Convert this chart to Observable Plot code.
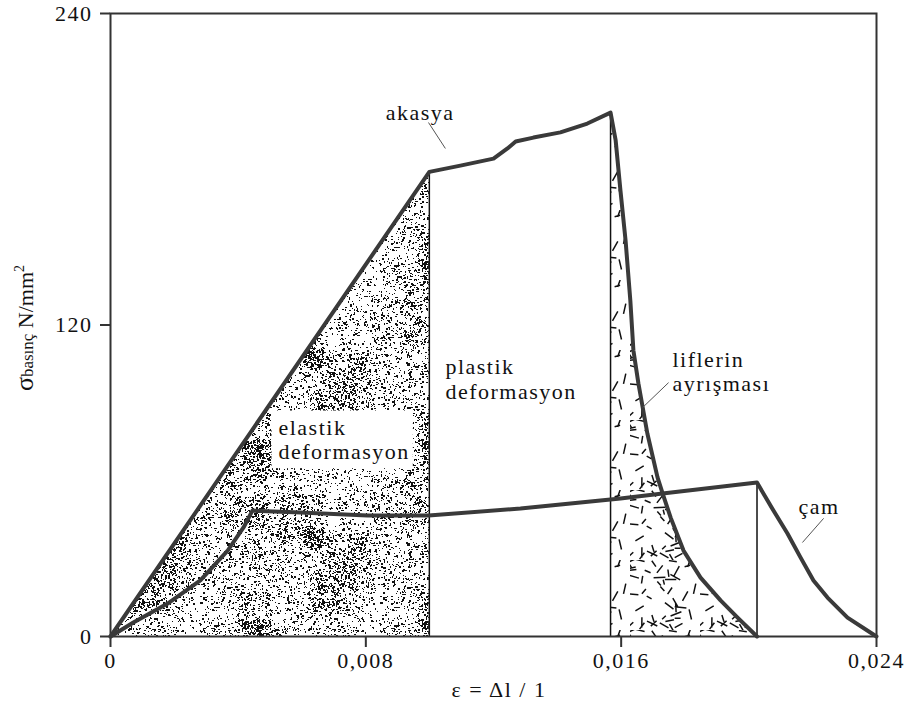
<!DOCTYPE html>
<html>
<head>
<meta charset="utf-8">
<script src="https://cdn.jsdelivr.net/npm/d3@7"></script>
<script src="https://cdn.jsdelivr.net/npm/@observablehq/plot@0.6"></script>
<style>
  html, body { margin: 0; padding: 0; background: #fff; }
  #chart svg { display: block; }
</style>
</head>
<body>
<div id="chart"></div>
<script>
// Compression test: strain ε (Δl / l) against compressive stress σ (N/mm²)
const akasyaStrain = [0, 0.0099, 0.01081, 0.01178, 0.01219, 0.01243, 0.01295, 0.01374, 0.01453, 0.01521,
  0.01536, 0.0155, 0.01565, 0.01579, 0.01588, 0.01603, 0.01633, 0.01667, 0.01684, 0.01711,
  0.01754, 0.01811, 0.01878, 0.01935, 0.0200];
const akasyaStress = [0, 179, 181.4, 184.1, 188, 190.7, 192.2, 194.2, 197.6, 201.8,
  191.1, 171.8, 152.6, 129.4, 110.2, 97.5, 78.2, 61.3, 55.1, 45.8,
  33.1, 22.7, 13.9, 7.3, 0];

const camStrain = [0, 0.00072, 0.0018, 0.00283, 0.00369, 0.00419, 0.00447, 0.00598, 0.00809, 0.00988,
  0.01257, 0.0155, 0.01684, 0.0200, 0.02055, 0.02102, 0.02146, 0.02189, 0.02236, 0.02303, 0.024];
const camStress = [0, 5.4, 12.7, 21.6, 33.1, 42, 48.5, 47.8, 46.6, 46.6,
  49.3, 53.2, 55.1, 59.3, 48.5, 39.7, 30.4, 21.6, 15, 7.3, 0];

// indices of the elastic limit and the maximum stress on each curve
const akasyaElasticIdx = 1;
const akasyaPeakIdx = 9;
const camPeakIdx = 13;

const xTicks = [0, 0.008, 0.016, 0.024];
const yTicks = [0, 120, 240];
// the strain axis is drawn with slightly unequal tick intervals (0.332 / 0.356 / 0.312 of the width)
const xTickShare = [0, 0.3316, 0.6880, 1];

// annotations
const labelText = ["akasya", "plastik\ndeformasyon", "elastik\ndeformasyon", "liflerin\nayrışması", "çam"];
const labelStrain = [0.00862, 0.01037, 0.00529, 0.01717, 0.02139];
const labelStress = [202.2, 99.4, 76.1, 102.3, 50.1];

// leader lines from annotation to curve
const leaderStrainFrom = [0.009875, 0.01704, 0.02223];
const leaderStressFrom = [198.0, 97.8, 45.5];
const leaderStrainTo = [0.01037, 0.01617, 0.02152];
const leaderStressTo = [188.0, 88.2, 36.2];

const akasya = akasyaStrain.map((x, i) => ({x, y: akasyaStress[i]}));
const cam = camStrain.map((x, i) => ({x, y: camStress[i]}));
const elasticZone = akasya.slice(0, akasyaElasticIdx + 1);
const fibreZone = akasya.slice(akasyaPeakIdx);
const dividers = [akasya[akasyaElasticIdx], akasya[akasyaPeakIdx], cam[camPeakIdx]];
const labels = labelText.map((text, i) => ({text, x: labelStrain[i], y: labelStress[i]}));
const leaders = leaderStrainFrom.map((x1, i) => ({
  x1, y1: leaderStressFrom[i], x2: leaderStrainTo[i], y2: leaderStressTo[i]
}));

// piecewise warp of strain so each tick lands at its share of the axis
const xMax = xTicks[xTicks.length - 1];
const warp = d3.scaleLinear().domain(xTicks).range(xTickShare.map(s => s * xMax));

const fmtX = d => d === 0 ? "0" : d.toFixed(3).replace(".", ",");
const ink = "#333";
const serif = "'Liberation Serif', 'Times New Roman', serif";

const chart = Plot.plot({
  width: 919,
  height: 707,
  marginLeft: 110,
  marginRight: 43,
  marginTop: 13,
  marginBottom: 71,
  style: {fontFamily: serif, fontSize: "22px", letterSpacing: "1.5px", color: "#111", background: "#fff"},
  x: {type: "linear", domain: [0, xMax], transform: warp},
  y: {domain: [0, 240]},
  marks: [
    Plot.areaY(elasticZone, {x: "x", y: "y", fill: "url(#stipple)"}),
    Plot.areaY(fibreZone, {x: "x", y: "y", fill: "url(#fibres)"}),
    Plot.ruleX(dividers, {x: "x", y1: 0, y2: "y", stroke: "#111", strokeWidth: 1.5}),
    Plot.frame({stroke: ink, strokeWidth: 2}),
    Plot.axisX({ticks: xTicks, tickFormat: fmtX, tickSize: 11, tickPadding: 5,
      stroke: ink, strokeWidth: 2, fill: "#111", label: null}),
    Plot.axisY({ticks: yTicks, tickFormat: d => String(d), tickSize: 10, tickPadding: 8,
      stroke: ink, strokeWidth: 2, fill: "#111", label: null}),
    Plot.line(cam, {x: "x", y: "y", stroke: "#3a3a3a", strokeWidth: 4, strokeLinejoin: "round"}),
    Plot.line(akasya, {x: "x", y: "y", stroke: "#3a3a3a", strokeWidth: 4, strokeLinejoin: "round"}),
    Plot.link(leaders, {x1: "x1", y1: "y1", x2: "x2", y2: "y2", stroke: "#555", strokeWidth: 1}),
    Plot.text(labels, {x: "x", y: "y", text: "text", textAnchor: "start", lineAnchor: "middle",
      fontSize: 22, lineHeight: 1.12, fill: "#111"})
  ]
});

document.getElementById("chart").appendChild(chart);

const svg = d3.select(chart);

// fill textures: fine stipple for the elastic zone, short fibre strokes for the split zone
const defs = svg.insert("defs", ":first-child");
const rnd = d3.randomLcg(0.4271);
const T = 180;
const st = defs.append("pattern").attr("id", "stipple")
  .attr("patternUnits", "userSpaceOnUse").attr("width", T).attr("height", T);
st.append("rect").attr("width", T).attr("height", T).attr("fill", "#fff");
let dots = "";
// denser specks around a few soft clusters give the grain its clumpy look
const clusters = d3.range(14).map(() => [rnd() * T, rnd() * T, 10 + rnd() * 18]);
for (let i = 0; i < 4600; i++) {
  let x = rnd() * T, y = rnd() * T;
  if (i % 3 === 0) {
    const c = clusters[i % clusters.length];
    x = (c[0] + (rnd() - 0.5) * 2 * c[2] + T) % T;
    y = (c[1] + (rnd() - 0.5) * 2 * c[2] + T) % T;
  }
  const w = rnd() < 0.4 ? 2 : 1, h = rnd() < 0.3 ? 2 : 1;
  dots += `M${Math.floor(x)},${Math.floor(y)}h${w}v${h}h${-w}z`;
}
st.append("path").attr("d", dots).attr("fill", "#111");

const F = 70;
const fb = defs.append("pattern").attr("id", "fibres")
  .attr("patternUnits", "userSpaceOnUse").attr("width", F).attr("height", F);
fb.append("rect").attr("width", F).attr("height", F).attr("fill", "#fff");
let strokes = "";
for (let i = 0; i < 46; i++) {
  const x = rnd() * F, y = rnd() * F;
  const a = rnd() * Math.PI, len = 5 + rnd() * 7;
  const dx = Math.cos(a) * len / 2, dy = Math.sin(a) * len / 2;
  strokes += `M${(x - dx).toFixed(1)},${(y - dy).toFixed(1)}L${(x + dx).toFixed(1)},${(y + dy).toFixed(1)}`;
}
fb.append("path").attr("d", strokes).attr("stroke", "#111").attr("stroke-width", 1.5).attr("fill", "none");

// white box behind the label that sits on the stipple
svg.selectAll("text").each(function() {
  if (!this.textContent.startsWith("elastik")) return;
  const b = this.getBBox();
  const t = this.getAttribute("transform");
  d3.select(this.parentNode).insert("rect", () => this)
    .attr("transform", t)
    .attr("x", b.x - 7).attr("y", b.y - 4)
    .attr("width", b.width + 10).attr("height", b.height + 8)
    .attr("fill", "#fff");
});

// axis titles
const yTitle = svg.append("text")
  .attr("transform", "translate(33,328) rotate(-90)")
  .attr("text-anchor", "middle")
  .attr("fill", "#111")
  .style("letter-spacing", "0px");
yTitle.append("tspan").attr("font-size", 26).text("σ");
yTitle.append("tspan").attr("font-size", 17).text("basınç");
yTitle.append("tspan").attr("font-size", 22).text(" N/mm");
yTitle.append("tspan").attr("font-size", 14).attr("dy", -9).text("2");

svg.append("text")
  .attr("x", 499).attr("y", 697)
  .attr("text-anchor", "middle")
  .attr("font-size", 22)
  .attr("fill", "#111")
  .text("ε = Δl / 1");
</script>
</body>
</html>
